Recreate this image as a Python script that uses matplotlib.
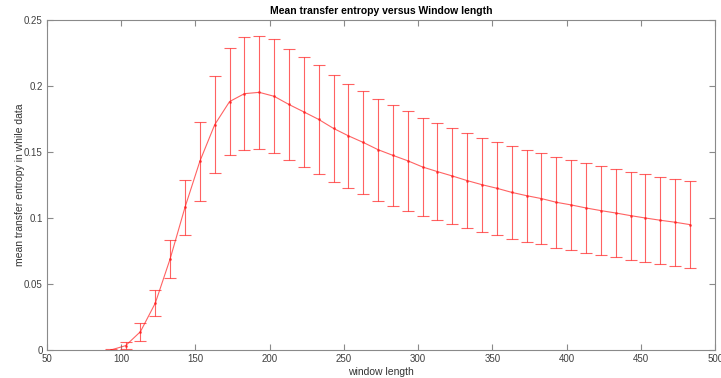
import matplotlib.pyplot as plt

# window lengths and the mean transfer entropy (with spread) at each
window_len = [93, 103, 113, 123, 133, 143, 153, 163, 173, 183,
              193, 203, 213, 223, 233, 243, 253, 263, 273, 283,
              293, 303, 313, 323, 333, 343, 353, 363, 373, 383,
              393, 403, 413, 423, 433, 443, 453, 463, 473, 483]
mean_te = [0.0000, 0.0033, 0.0139, 0.0355, 0.0690, 0.1080, 0.1428, 0.1705, 0.1880, 0.1940,
           0.1950, 0.1920, 0.1858, 0.1802, 0.1745, 0.1677, 0.1621, 0.1571, 0.1516, 0.1473,
           0.1432, 0.1385, 0.1350, 0.1317, 0.1282, 0.1251, 0.1224, 0.1193, 0.1168, 0.1146,
           0.1118, 0.1098, 0.1075, 0.1055, 0.1037, 0.1017, 0.0999, 0.0982, 0.0967, 0.0949]
err_te = [0.0005, 0.0025, 0.0067, 0.0100, 0.0143, 0.0210, 0.0300, 0.0367, 0.0407, 0.0427,
          0.0430, 0.0431, 0.0420, 0.0415, 0.0413, 0.0403, 0.0395, 0.0390, 0.0387, 0.0380,
          0.0378, 0.0372, 0.0369, 0.0366, 0.0360, 0.0356, 0.0353, 0.0350, 0.0349, 0.0345,
          0.0344, 0.0343, 0.0342, 0.0336, 0.0334, 0.0333, 0.0332, 0.0330, 0.0330, 0.0327]

x_ticks = [50, 100, 150, 200, 250, 300, 350, 400, 450, 500]
y_ticks = [0, 0.05, 0.1, 0.15, 0.2, 0.25]
y_tick_labels = ["0", "0.05", "0.1", "0.15", "0.2", "0.25"]

plt.rcParams["font.family"] = ["Liberation Sans", "DejaVu Sans"]

fig = plt.figure(figsize=(7.21, 3.78), dpi=100)
ax = fig.add_axes([0.065, 0.074, 0.927, 0.874])

ax.errorbar(window_len, mean_te, yerr=err_te, color="#ff2020", alpha=0.7,
            linewidth=0.8, elinewidth=0.8, capsize=4.3, capthick=0.8,
            marker=".", markersize=2)

ax.set_xlim(50, 500)
ax.set_ylim(0, 0.25)
ax.set_xticks(x_ticks)
ax.set_xticklabels([str(t) for t in x_ticks])
ax.set_yticks(y_ticks)
ax.set_yticklabels(y_tick_labels)

for side in ["top", "bottom", "left", "right"]:
    ax.spines[side].set_color("#8a8a8a")
    ax.spines[side].set_linewidth(0.8)
ax.tick_params(direction="in", length=4, width=0.8, color="#8a8a8a",
               labelsize=7, labelcolor="#404040", top=True, right=True, pad=3)

ax.set_title("Mean transfer entropy versus Window length", fontsize=7.5,
             fontweight="bold", pad=4)
ax.set_xlabel("window length", fontsize=7.5, color="#333333", labelpad=2)
ax.set_ylabel("mean transfer entropy in while data", fontsize=7.5,
              color="#333333", labelpad=-1)

fig.savefig("out.png", dpi=100)
